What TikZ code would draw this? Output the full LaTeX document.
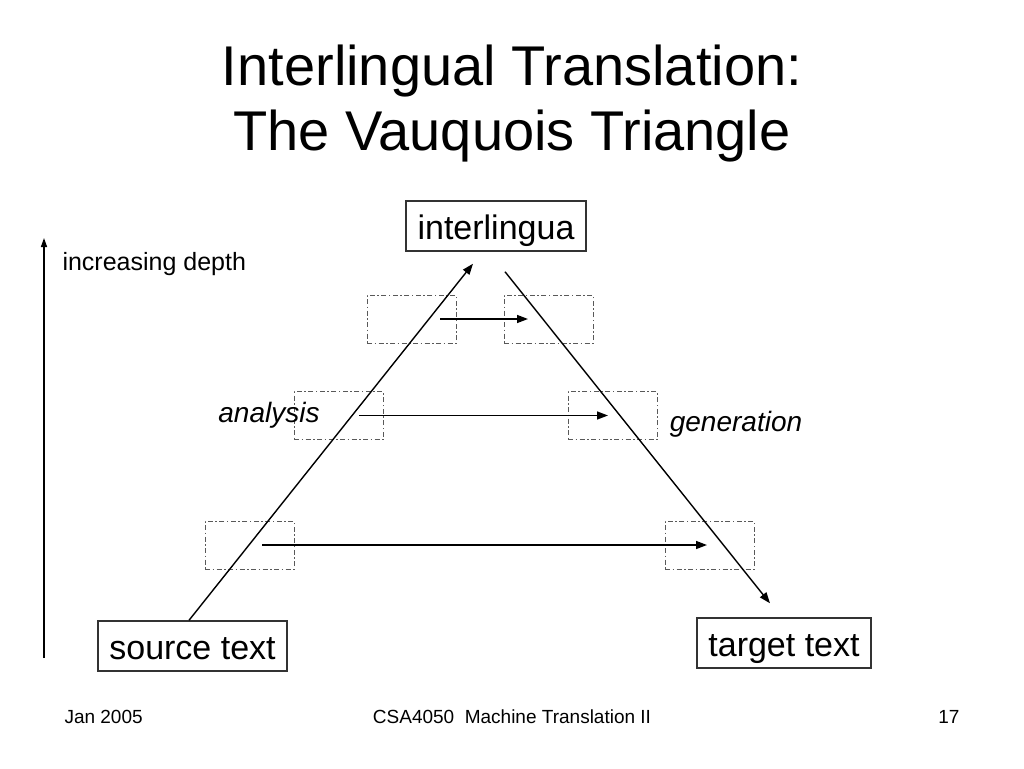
\documentclass[tikz,border=0pt]{standalone}
\usepackage{fontspec}
\setmainfont{Liberation Sans}
\usepackage{tikz}
\usetikzlibrary{arrows.meta}

\begin{document}
\begin{tikzpicture}[x=1pt,y=-1pt,
  textbox/.style={draw=black!80,line width=1.4pt,inner xsep=11.5pt,minimum height=50pt,
    text height=29pt,text depth=3pt,font=\fontsize{34}{40}\selectfont},
  layer/.style={draw=black!65,line width=1pt,dash pattern=on 5pt off 2.5pt on 1.5pt off 2.5pt,
    minimum width=89pt,minimum height=48pt,inner sep=0pt},
  link/.style={line width=1.4pt,-{Triangle[length=11pt,width=8pt]}}]
\useasboundingbox (0,0) rectangle (1024,768);
\node[align=center,font=\fontsize{56}{65}\selectfont] (title) at (512,104) {Interlingual Translation:\\The Vauquois Triangle};
\node[textbox] (il) at (496,226) {interlingua};
\node[textbox] (src) at (192.5,646) {source text};
\node[textbox] (tgt) at (784,643) {target text};
\node[layer] (l1) at (411.5,319) {};
\node[layer] (r1) at (548.5,319) {};
\node[layer] (l2) at (338.5,415.5) {};
\node[layer] (r2) at (612.5,415.5) {};
\node[layer] (l3) at (249.5,545) {};
\node[layer] (r3) at (709.5,545) {};
\coordinate (d0) at (44,658);
\coordinate (d1) at (44,238);
\draw[line width=1.4pt,-{Triangle[length=9pt,width=6pt]}] (d0) -- (d1);
\node[anchor=west,font=\fontsize{25}{30}\selectfont] (depth) at (59,264) {increasing depth};
\draw[link] ([xshift=-3.5pt]src.north) -- ([xshift=-23pt,yshift=-12pt]il.south);
\draw[link] ([xshift=9pt,yshift=-20pt]il.south) -- ([xshift=-14pt,yshift=14pt]tgt.north);
\draw[link] ([xshift=28.5pt]l1.center) -- ([xshift=-20.5pt]r1.center);
\draw[link] ([xshift=20.5pt]l2.center) -- ([xshift=-4.5pt]r2.center);
\draw[link] ([xshift=12.5pt]l3.center) -- ([xshift=-2.5pt]r3.center);
\node[font=\fontsize{28}{32}\selectfont\itshape] (ana) at (269,415) {analysis};
\node[font=\fontsize{28}{32}\selectfont\itshape] (gen) at (736,424) {generation};
\node[anchor=west,font=\fontsize{19}{22}\selectfont] (date) at (61,717) {Jan 2005};
\node[font=\fontsize{19}{22}\selectfont] (course) at (512,717) {CSA4050\ \ Machine Translation II};
\node[anchor=east,font=\fontsize{19}{22}\selectfont] (page) at (963,717) {17};
\end{tikzpicture}
\end{document}
